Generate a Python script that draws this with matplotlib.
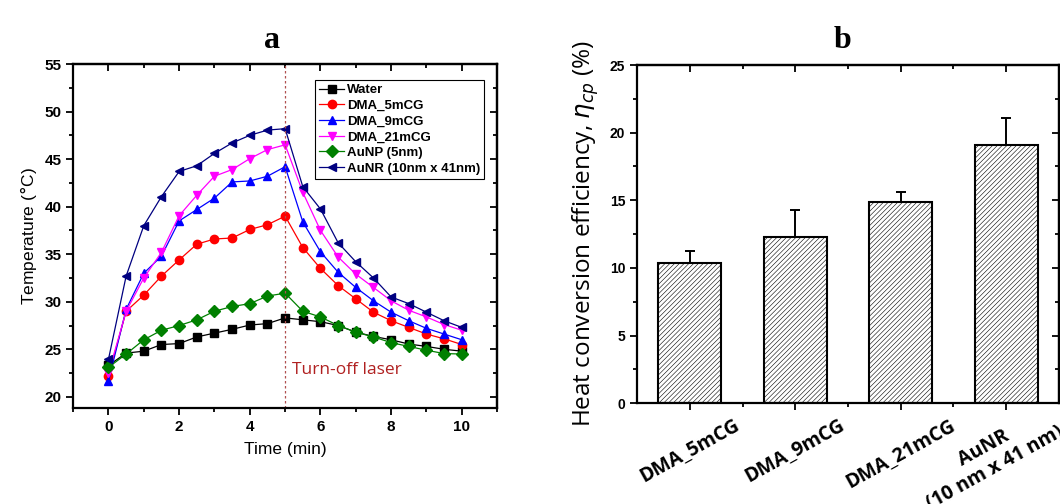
import numpy as np
import matplotlib
matplotlib.use("Agg")
import matplotlib.pyplot as plt
from matplotlib.ticker import MultipleLocator
from matplotlib.transforms import ScaledTranslation

# panel a: temperature vs time
time = np.arange(0, 10.01, 0.5)
water = [23.3, 24.6, 24.8, 25.5, 25.6, 26.3, 26.7, 27.1, 27.55, 27.7, 28.3,
         28.1, 27.9, 27.5, 26.8, 26.35, 26.0, 25.55, 25.3, 25.0, 24.8]
dma5 = [22.2, 29.0, 30.7, 32.7, 34.4, 36.05, 36.6, 36.7, 37.6, 38.1, 39.0,
        35.7, 33.5, 31.7, 30.3, 28.9, 28.0, 27.3, 26.6, 26.1, 25.5]
dma9 = [21.65, 29.2, 33.0, 34.8, 38.5, 39.7, 40.9, 42.6, 42.7, 43.2, 44.2,
        38.4, 35.25, 33.1, 31.5, 30.1, 28.9, 28.0, 27.2, 26.6, 26.0]
dma21 = [22.5, 29.0, 32.5, 35.2, 39.05, 41.2, 43.2, 43.9, 45.05, 46.0, 46.5,
         41.5, 37.5, 34.7, 32.9, 31.5, 30.1, 29.1, 28.4, 27.6, 27.0]
aunp = [23.1, 24.5, 26.0, 27.0, 27.5, 28.1, 29.0, 29.5, 29.8, 30.6, 30.9,
        29.0, 28.4, 27.5, 26.8, 26.3, 25.7, 25.3, 24.9, 24.55, 24.5]
aunr = [23.95, 32.7, 38.0, 41.06, 43.7, 44.3, 45.6, 46.7, 47.5, 48.05, 48.2,
        42.1, 39.75, 36.2, 34.2, 32.5, 30.5, 29.8, 28.9, 28.0, 27.3]

series = [
    ("Water", water, "black", "s"),
    ("DMA_5mCG", dma5, "red", "o"),
    ("DMA_9mCG", dma9, "blue", "^"),
    ("DMA_21mCG", dma21, "magenta", "v"),
    ("AuNP (5nm)", aunp, "green", "D"),
    ("AuNR (10nm x 41nm)", aunr, "#000080", "<"),
]

# panel b: heat conversion efficiency
samples = ["DMA_5mCG", "DMA_9mCG", "DMA_21mCG", "AuNR\n(10 nm x 41 nm)"]
eff = [10.39, 12.3, 14.88, 19.06]
eff_err = [0.87, 2.0, 0.76, 2.05]


def style_ticks(ax, xmaj, xmin_ticks, ymaj, ymin_ticks, labelsize):
    # abajo/izquierda hacia fuera, arriba/derecha hacia dentro (ejes espejo)
    ax.tick_params(which="both", direction="out", width=1.3, labelsize=labelsize)
    ax.tick_params(which="major", length=5)
    ax.tick_params(which="minor", length=3)
    top = ax.secondary_xaxis("top")
    right = ax.secondary_yaxis("right")
    top.set_xticks(xmaj)
    top.set_xticks(xmin_ticks, minor=True)
    right.set_yticks(ymaj)
    right.set_yticks(ymin_ticks, minor=True)
    for sec in (top, right):
        sec.tick_params(which="both", direction="in", width=1.3,
                        labeltop=False, labelright=False)
        sec.tick_params(which="major", length=5)
        sec.tick_params(which="minor", length=3)
        for sp in sec.spines.values():
            sp.set_linewidth(1.6)
    for sp in ax.spines.values():
        sp.set_linewidth(1.6)


fig = plt.figure(figsize=(10.6, 5.04), dpi=100)

ax1 = fig.add_axes([0.069, 0.190, 0.400, 0.683])
for name, vals, col, mk in series:
    ax1.plot(time, vals, color=col, marker=mk, ms=6, lw=0.9, label=name,
             markeredgecolor=col)
ax1.axvline(5, color="#b05050", ls=(0, (2, 2)), lw=0.9)
ax1.text(5.2, 22.4, "Turn-off laser", color="#b02020", fontsize=12.5,
         family="Open Sans")
ax1.set_xlim(-1, 11)
ax1.set_ylim(18.8, 55)
ax1.xaxis.set_major_locator(MultipleLocator(2))
ax1.xaxis.set_minor_locator(MultipleLocator(1))
ax1.yaxis.set_major_locator(MultipleLocator(5))
ax1.yaxis.set_minor_locator(MultipleLocator(2.5))
style_ticks(ax1, np.arange(0, 11, 2), np.arange(-1, 12, 1),
            np.arange(20, 56, 5), np.arange(20, 56, 2.5), 11)
for lab in ax1.get_xticklabels() + ax1.get_yticklabels():
    lab.set_family("Liberation Sans")
    lab.set_weight("bold")
ax1.set_xlabel("Time (min)", fontsize=12.5, family="Liberation Sans", labelpad=6)
ax1.set_ylabel("Temperature ($\\degree$C)", fontsize=12.5, family="Liberation Sans")
leg = ax1.legend(loc="upper right", bbox_to_anchor=(0.985, 0.972),
                 prop={"family": "Liberation Sans", "weight": "bold", "size": 9.5},
                 handlelength=1.9, handletextpad=0.2, labelspacing=0.26,
                 borderpad=0.3, fancybox=False, framealpha=1)
leg.get_frame().set_edgecolor("black")
leg.get_frame().set_linewidth(0.8)
fig.text(0.257, 0.905, "a", fontsize=23, weight="bold", family="Liberation Serif",
         ha="center")

plt.rcParams["hatch.linewidth"] = 0.4
ax2 = fig.add_axes([0.601, 0.200, 0.398, 0.671])
xpos = np.arange(len(samples))
ax2.bar(xpos, eff, width=0.6, color="white", edgecolor="black", lw=1.5,
        hatch="///////")
ax2.errorbar(xpos, eff, yerr=[np.zeros(len(eff)), eff_err], fmt="none",
             ecolor="black", elinewidth=1.4, capsize=3.5, capthick=1.4)
ax2.set_xlim(-0.5, 3.5)
ax2.set_ylim(0, 25)
ax2.yaxis.set_major_locator(MultipleLocator(5))
ax2.yaxis.set_minor_locator(MultipleLocator(2.5))
style_ticks(ax2, xpos, xpos[:-1] + 0.5, np.arange(0, 26, 5),
            np.arange(0, 26, 2.5), 10)
ax2.set_xticks(xpos)
ax2.set_xticks(xpos[:-1] + 0.5, minor=True)
# la etiqueta de dos lineas va aparte: en el original queda mas arriba y a la izquierda
ax2.set_xticklabels(samples[:-1] + [""], rotation=29, ha="center", va="top",
                    fontsize=14, weight="bold", family="Open Sans")
ax2.text(xpos[-1], 0, samples[-1], rotation=29, ha="center", va="top",
         fontsize=14, weight="bold", family="Open Sans", multialignment="center",
         clip_on=False,
         transform=ax2.transData + ScaledTranslation(-0.17, 0.01, fig.dpi_scale_trans))
ax2.tick_params(axis="x", which="major", pad=4)
for lab in ax2.get_yticklabels():
    lab.set_family("Liberation Sans")
    lab.set_weight("bold")
ax2.set_ylabel("Heat conversion efficiency, $\\eta_{cp}$ (%)", fontsize=17.5,
               family="Open Sans", labelpad=6)
fig.text(0.795, 0.905, "b", fontsize=23, weight="bold", family="Liberation Serif",
         ha="center")

fig.savefig("out.png", dpi=100)
